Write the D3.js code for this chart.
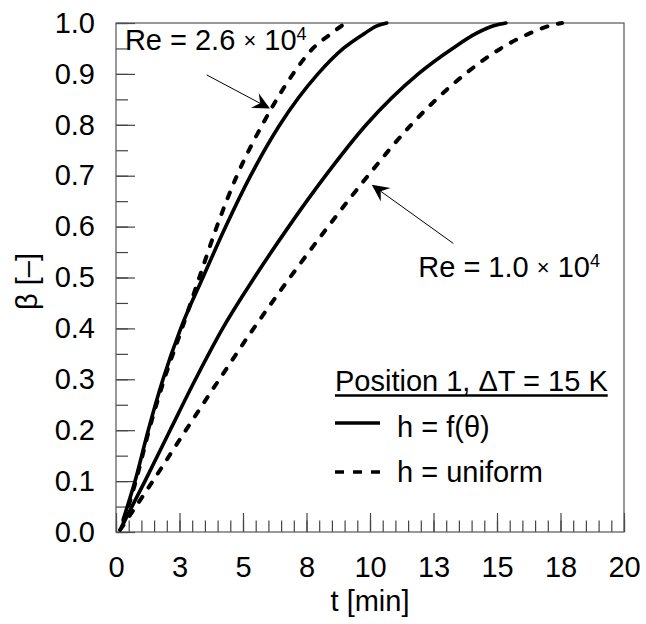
<!DOCTYPE html>
<html>
<head>
<meta charset="utf-8">
<script src="https://cdn.jsdelivr.net/npm/d3@7"></script>
<style>
  body { margin: 0; background: #fff; }
  text { font-family: "Liberation Sans", Arial, sans-serif; fill: #000; }
</style>
</head>
<body>
<div id="vis"></div>
<script>
// values: t [min], beta [-]
const reHighSolidT = [0.28, 0.75, 1.27, 1.85, 2.55, 3.42, 4.32, 5.3, 6.45, 7.95, 8.95, 9.8, 10.25, 10.66];
const reHighSolidB = [0.024, 0.10, 0.20, 0.30, 0.40, 0.50, 0.60, 0.70, 0.80, 0.90, 0.95, 0.98, 0.994, 1.0];
const reHighDashT = [0.3, 0.78, 1.3, 1.9, 2.6, 3.28, 3.97, 4.76, 5.76, 6.97, 7.75, 8.5, 8.9, 9.1];
const reHighDashB = [0.02, 0.10, 0.20, 0.30, 0.40, 0.50, 0.60, 0.70, 0.80, 0.90, 0.95, 0.98, 0.995, 1.0];
const reLowSolidT = [0.22, 1.14, 2.13, 3.13, 4.2, 5.45, 6.8, 8.25, 9.85, 11.9, 13.25, 14.2, 14.9, 15.35];
const reLowSolidB = [0.01, 0.10, 0.20, 0.30, 0.40, 0.50, 0.60, 0.70, 0.80, 0.90, 0.95, 0.98, 0.995, 1.0];
const reLowDashT = [0.16, 1.45, 2.75, 4.07, 5.42, 6.85, 8.35, 9.92, 11.62, 13.75, 15.15, 16.3, 17.1, 17.56];
const reLowDashB = [0.004, 0.10, 0.20, 0.30, 0.40, 0.50, 0.60, 0.70, 0.80, 0.90, 0.95, 0.98, 0.995, 1.0];

const xMajor = [0, 2.5, 5, 7.5, 10, 12.5, 15, 17.5, 20];
const yMajor = [0, 0.1, 0.2, 0.3, 0.4, 0.5, 0.6, 0.7, 0.8, 0.9, 1.0];

const svg = d3.select("#vis").append("svg").attr("width", 646).attr("height", 624);
const margins = { top: 23, right: 22, bottom: 92, left: 116 };
const width = 646, height = 624;

const x = d3.scaleLinear().domain([0, 20]).range([margins.left, width - margins.right]);
const y = d3.scaleLinear().domain([0, 1]).range([height - margins.bottom, margins.top]);

const axisColor = "#444";

// minor ticks
svg.append("g")
  .attr("transform", `translate(0,${y(0)})`)
  .call(d3.axisBottom(x).tickValues(d3.range(0, 20.01, 0.5)).tickSize(-11.5).tickFormat(""))
  .call(g => g.select(".domain").remove());
svg.append("g")
  .attr("transform", `translate(${x(0)},0)`)
  .call(d3.axisLeft(y).tickValues(d3.range(0, 1.001, 0.05)).tickSize(-12).tickFormat(""))
  .call(g => g.select(".domain").remove());

// major ticks + labels
svg.append("g")
  .attr("class", "x axis")
  .attr("transform", `translate(0,${y(0)})`)
  .call(d3.axisBottom(x).tickValues(xMajor).tickSize(-19).tickPadding(24).tickFormat(d => Math.round(d)))
  .call(g => g.select(".domain").remove());
svg.append("g")
  .attr("class", "y axis")
  .attr("transform", `translate(${x(0)},0)`)
  .call(d3.axisLeft(y).tickValues(yMajor).tickSize(-19).tickPadding(21).tickFormat(d3.format(".1f")))
  .call(g => g.select(".domain").remove());

svg.selectAll(".tick line").attr("stroke", axisColor).attr("stroke-width", 1.2);
svg.selectAll(".axis .tick text").attr("font-size", 29).attr("font-family", "Liberation Sans, Arial, sans-serif").attr("fill", "#000");

// frame
svg.append("rect")
  .attr("x", x(0)).attr("y", y(1))
  .attr("width", x(20) - x(0)).attr("height", y(0) - y(1))
  .attr("fill", "none").attr("stroke", "#555").attr("stroke-width", 1.2);

// axis titles
svg.append("text")
  .attr("x", (x(0) + x(20)) / 2).attr("y", 611)
  .attr("text-anchor", "middle").attr("font-size", 29)
  .text("t [min]");
svg.append("text")
  .attr("transform", `translate(37,${(y(0) + y(1)) / 2 + 4}) rotate(-90)`)
  .attr("text-anchor", "middle").attr("font-size", 29)
  .text("β [–]");

// curves
const line = d3.line().x(d => x(d[0])).y(d => y(d[1])).curve(d3.curveMonotoneX);
function drawCurve(ts, bs, dashed) {
  const pts = ts.map((t, i) => [t, bs[i]]);
  svg.append("path")
    .attr("d", line(pts))
    .attr("fill", "none")
    .attr("stroke", "#000")
    .attr("stroke-width", dashed ? 4 : 3.6)
    .attr("stroke-linecap", "round")
    .attr("stroke-dasharray", dashed ? "6,11" : null);
}
drawCurve(reHighSolidT, reHighSolidB, false);
drawCurve(reHighDashT, reHighDashB, true);
drawCurve(reLowSolidT, reLowSolidB, false);
drawCurve(reLowDashT, reLowDashB, true);

// annotation arrows
function arrow(t0, b0, t1, b1) {
  const x0 = x(t0), y0 = y(b0), x1 = x(t1), y1 = y(b1);
  const ang = Math.atan2(y1 - y0, x1 - x0);
  const L = 19, half = 26 * Math.PI / 180, notch = 11;
  svg.append("line")
    .attr("x1", x0).attr("y1", y0)
    .attr("x2", x1 - Math.cos(ang) * notch).attr("y2", y1 - Math.sin(ang) * notch)
    .attr("stroke", "#000").attr("stroke-width", 1);
  const back = ang + Math.PI;
  const p1 = [x1 + L * Math.cos(back - half), y1 + L * Math.sin(back - half)];
  const p2 = [x1 + L * Math.cos(back + half), y1 + L * Math.sin(back + half)];
  const pn = [x1 + notch * Math.cos(back), y1 + notch * Math.sin(back)];
  svg.append("path")
    .attr("d", `M${x1},${y1}L${p1}L${pn}L${p2}Z`)
    .attr("fill", "#000");
}
arrow(3.57, 0.898, 6.06, 0.832);
arrow(13.28, 0.567, 10.07, 0.682);

function reLabel(t, b, mant) {
  const txt = svg.append("text").attr("x", x(t)).attr("y", y(b)).attr("font-size", 29);
  txt.append("tspan").text(`Re = ${mant} `);
  txt.append("tspan").attr("font-size", 22).attr("dy", -2).text("×");
  txt.append("tspan").attr("dy", 2).text(" 10");
  txt.append("tspan").attr("font-size", 18).attr("dy", -10).text("4");
}
reLabel(0.35, 0.946, "2.6");
reLabel(11.9, 0.501, "1.0");

// legend
const lg = svg.append("g");
const title = lg.append("text").attr("x", 335).attr("y", 391).attr("font-size", 29).text("Position 1, ΔT = 15 K");
const tw = title.node().getComputedTextLength();
lg.append("line").attr("x1", 335).attr("x2", 335 + tw).attr("y1", 395.5).attr("y2", 395.5)
  .attr("stroke", "#000").attr("stroke-width", 2.5);
lg.append("line").attr("x1", 335).attr("x2", 380).attr("y1", 423).attr("y2", 423)
  .attr("stroke", "#000").attr("stroke-width", 3.6);
lg.append("text").attr("x", 397).attr("y", 437).attr("font-size", 29).text("h = f(θ)");
lg.append("line").attr("x1", 335).attr("x2", 380).attr("y1", 472).attr("y2", 472)
  .attr("stroke", "#000").attr("stroke-width", 3.6).attr("stroke-dasharray", "9,9");
lg.append("text").attr("x", 397).attr("y", 482).attr("font-size", 29).text("h = uniform");
</script>
</body>
</html>
